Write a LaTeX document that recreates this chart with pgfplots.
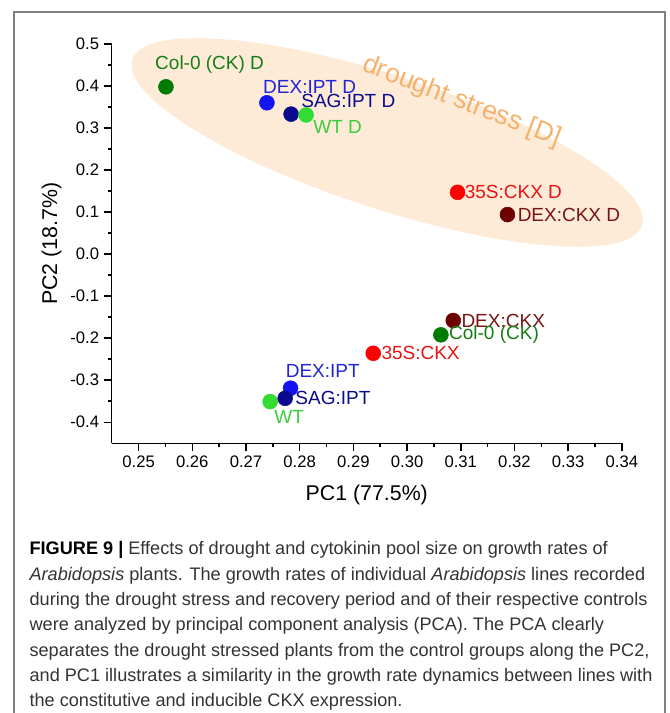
\documentclass[border=0pt]{standalone}
\usepackage{fontspec}
\setmainfont{Liberation Sans}
\usepackage{pgfplots}
\pgfplotsset{compat=1.18}
\definecolor{framegray}{RGB}{128,128,128}
\definecolor{ellfill}{RGB}{253,235,216}
\definecolor{drtext}{RGB}{245,178,110}
\definecolor{dkgreen}{RGB}{0,122,0}
\definecolor{dkgreentxt}{RGB}{20,125,20}
\definecolor{ipblue}{RGB}{20,20,240}
\definecolor{ipbluetxt}{RGB}{35,35,215}
\definecolor{sagnavy}{RGB}{10,10,140}
\definecolor{ltgreen}{RGB}{50,220,50}
\definecolor{ltgreentxt}{RGB}{60,205,60}
\definecolor{ckred}{RGB}{255,0,0}
\definecolor{ckredtxt}{RGB}{230,20,20}
\definecolor{dkred}{RGB}{110,0,0}
\definecolor{dkredtxt}{RGB}{120,20,20}
\definecolor{captxt}{RGB}{51,51,51}
\newcommand\tickfont{\fontsize{12.5}{15}\selectfont}
\newcommand\labfont{\fontsize{14.25}{17}\selectfont}
\newcommand\axfont{\fontsize{16}{19}\selectfont}
\newcommand\capfont{\fontsize{13.6}{16}\selectfont}
\pgfplotsset{
  pt/.style n args={4}{only marks, mark=*, mark size=5.6pt, color=#1,
    nodes near coords={#2},
    nodes near coords style={anchor=west, inner sep=0pt, font=\labfont, text=#1txt, xshift=#3, yshift=#4}},
}
\begin{document}
\begin{tikzpicture}
\path[use as bounding box] (0,0) rectangle (501.75pt,534.75pt);
\draw[line width=1.1pt, framegray] (10.5pt,-2pt) -- (10.5pt,525.75pt) -- (498.75pt,525.75pt) -- (498.75pt,-2pt);
\begin{axis}[
  at={(83.8pt,202.3pt)}, anchor=south west,
  width=382.6pt, height=299.5pt, scale only axis,
  xmin=0.245, xmax=0.34, ymin=-0.45, ymax=0.5,
  axis x line*=bottom, axis y line*=left,
  axis line style={line width=1.1pt, -},
  xtick={0.25,0.26,0.27,0.28,0.29,0.30,0.31,0.32,0.33,0.34},
  ytick={-0.4,-0.3,-0.2,-0.1,0,0.1,0.2,0.3,0.4,0.5},
  minor x tick num=1, minor y tick num=1,
  xtick pos=left, ytick pos=left,
  tick align=outside, major tick length=6pt, minor tick length=3pt,
  tick style={line width=1.1pt, black},
  /pgf/number format/assume math mode=true,
  xticklabel style={font=\tickfont, /pgf/number format/.cd, fixed, fixed zerofill, precision=2},
  yticklabel style={font=\tickfont, /pgf/number format/.cd, fixed, fixed zerofill, precision=1},
  scaled ticks=false,
  xlabel={PC1 (77.5\%)}, ylabel={PC2 (18.7\%)},
  xlabel style={font=\axfont, at={(axis description cs:0.5,-0.130)}, anchor=center},
  ylabel style={font=\axfont, at={(axis description cs:-0.118,0.5)}, anchor=center, rotate=0},
  clip=false,
]
\fill[ellfill, rotate around={-18:(axis cs:0.2963,0.2656)}] (axis cs:0.2963,0.2656) ellipse [x radius=201pt, y radius=50pt];
\node[rotate=-21, text=drtext, font=\fontsize{20}{24}\selectfont, inner sep=0pt] at (axis cs:0.3102,0.362) {drought stress [D]};
% drought stressed
\addplot[pt={dkgreen}{Col-0 (CK) D}{-8.25pt}{16.5pt}] coordinates {(0.2551,0.398)};
\addplot[pt={ipblue}{DEX:IPT D}{-3pt}{12pt}] coordinates {(0.2739,0.360)};
\addplot[pt={sagnavy}{SAG:IPT D}{7.5pt}{9.5pt}, nodes near coords style={text=sagnavy}] coordinates {(0.2784,0.333)};
\addplot[pt={ltgreen}{WT D}{5.25pt}{-9pt}] coordinates {(0.2812,0.331)};
\addplot[pt={ckred}{35S:CKX D}{5.25pt}{0pt}] coordinates {(0.3094,0.147)};
\addplot[pt={dkred}{DEX:CKX D}{7.5pt}{0pt}] coordinates {(0.3187,0.094)};
% controls
\addplot[pt={dkred}{DEX:CKX}{6pt}{0pt}] coordinates {(0.3086,-0.158)};
\addplot[pt={dkgreen}{Col-0 (CK)}{6pt}{0pt}] coordinates {(0.3063,-0.192)};
\addplot[pt={ckred}{35S:CKX}{6pt}{0pt}] coordinates {(0.2937,-0.236)};
\addplot[pt={ltgreen}{WT}{3pt}{-11.25pt}] coordinates {(0.2745,-0.351)};
\addplot[pt={ipblue}{DEX:IPT}{-3.75pt}{13.2pt}] coordinates {(0.2783,-0.319)};
\addplot[pt={sagnavy}{SAG:IPT}{7.5pt}{0pt}, nodes near coords style={text=sagnavy}] coordinates {(0.2773,-0.343)};
\end{axis}
\begin{scope}[every node/.style={anchor=base west, inner sep=0pt, font=\capfont, text=captxt}]
\node at (22pt,118.5pt) {\textbf{\color{black}FIGURE 9 |} Effects of drought and cytokinin pool size on growth rates of};
\node at (22pt,99.5pt) {\textit{Arabidopsis} plants. The growth rates of individual \textit{Arabidopsis} lines recorded};
\node at (22pt,80.55pt) {during the drought stress and recovery period and of their respective controls};
\node at (22pt,61.6pt) {were analyzed by principal component analysis (PCA). The PCA clearly};
\node at (22pt,42.6pt) {separates the drought stressed plants from the control groups along the PC2,};
\node at (22pt,23.6pt) {and PC1 illustrates a similarity in the growth rate dynamics between lines with};
\node at (22pt,4.65pt) {the constitutive and inducible CKX expression.};
\end{scope}
\end{tikzpicture}
\end{document}
